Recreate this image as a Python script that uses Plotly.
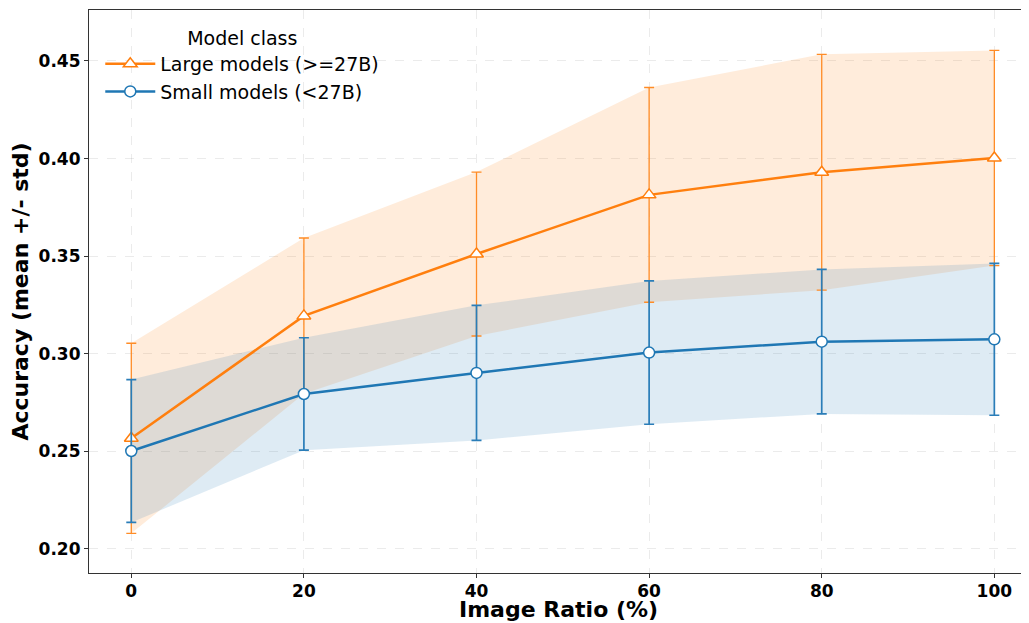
import numpy as np
import plotly.graph_objects as go

image_ratio = [0, 20, 40, 60, 80, 100]
large_mean = [0.2567, 0.3194, 0.3511, 0.3814, 0.3930, 0.4003]
large_std = [0.0487, 0.0399, 0.0420, 0.0550, 0.0604, 0.0551]
small_mean = [0.2502, 0.2794, 0.2902, 0.3006, 0.3062, 0.3074]
small_std = [0.0366, 0.0288, 0.0346, 0.0367, 0.0370, 0.0389]

ORANGE = "#ff7f0e"
BLUE = "#1f77b4"
FONT = "DejaVu Sans"

fig = go.Figure()

def add_band(mean, std, rgba):
    m = np.array(mean)
    s = np.array(std)
    fig.add_trace(go.Scatter(x=image_ratio, y=m - s, mode="lines", line=dict(width=0),
                             showlegend=False, hoverinfo="skip"))
    fig.add_trace(go.Scatter(x=image_ratio, y=m + s, mode="lines", line=dict(width=0),
                             fill="tonexty", fillcolor=rgba, showlegend=False, hoverinfo="skip"))

add_band(large_mean, large_std, "rgba(255,127,14,0.15)")
add_band(small_mean, small_std, "rgba(31,119,180,0.15)")

fig.add_trace(go.Scatter(
    x=image_ratio, y=large_mean, mode="lines+markers", name="Large models (>=27B)",
    line=dict(color=ORANGE, width=2.5),
    marker=dict(symbol="triangle-up", size=12, color="white", line=dict(width=1.5, color=ORANGE)),
    error_y=dict(type="data", array=large_std, visible=True, color="#ff8c26",
                 thickness=1.3, width=5),
))
fig.add_trace(go.Scatter(
    x=image_ratio, y=small_mean, mode="lines+markers", name="Small models (<27B)",
    line=dict(color=BLUE, width=2.5),
    marker=dict(symbol="circle", size=11, color="white", line=dict(width=1.5, color=BLUE)),
    error_y=dict(type="data", array=small_std, visible=True, color="#2a7db8",
                 thickness=1.7, width=5),
))

axis_common = dict(
    showline=True, linecolor="#333333", linewidth=1.2, mirror=True,
    ticks="outside", ticklen=4, tickcolor="#333333",
    showgrid=True, gridcolor="rgba(0,0,0,0.08)", griddash="dash", gridwidth=1,
    zeroline=False, automargin=False,
    tickfont=dict(family=FONT, size=17, color="black", weight="bold"),
)

fig.update_xaxes(
    range=[-4.9, 103.9], tickvals=[0, 20, 40, 60, 80, 100], ticklabelstandoff=-2,
    **axis_common,
)
fig.update_yaxes(
    range=[0.1877, 0.4761], tickvals=[0.20, 0.25, 0.30, 0.35, 0.40, 0.45], tickformat=".2f",
    title=dict(text="Accuracy (mean +/- std)", font=dict(family=FONT, size=22, color="black", weight="bold"), standoff=8),
    **axis_common,
)

# x-axis title as an annotation pinned to the bottom edge of the figure
fig.add_annotation(
    text="Image Ratio (%)", xref="paper", yref="paper", x=0.5, y=-50 / 563,
    xanchor="center", yanchor="bottom", showarrow=False, borderpad=0,
    font=dict(family=FONT, size=22, color="black", weight="bold"),
)

# page body has an 8px default margin; size the figure so the plot area lands where the reference has it
fig.update_layout(
    width=1021, height=615,
    margin=dict(l=81, r=1, t=2, b=50),
    plot_bgcolor="white", paper_bgcolor="white",
    font=dict(family=FONT, color="black"),
    legend=dict(
        title=dict(text="Model class", side="top center", font=dict(family=FONT, size=19, color="black")),
        font=dict(family=FONT, size=19, color="black"),
        x=0.012, y=0.982, xanchor="left", yanchor="top", traceorder="normal",
        bgcolor="rgba(255,255,255,0)", tracegroupgap=0, itemwidth=50,
    ),
)

fig.write_html("out.html")
